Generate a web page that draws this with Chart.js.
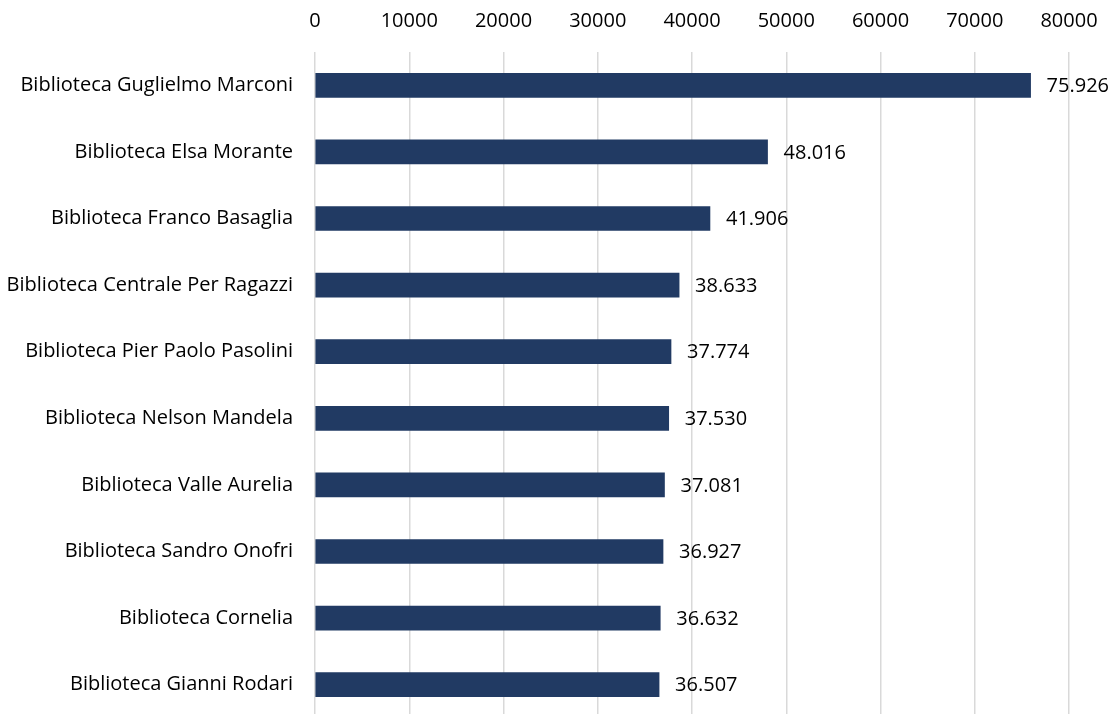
<!DOCTYPE html>
<html lang="it">
<head>
<meta charset="UTF-8">
<title>Biblioteche</title>
<script src="https://cdn.jsdelivr.net/npm/chart.js"></script>
<style>
    html, body { margin: 0; padding: 0; background: #fff; overflow: hidden; }
    canvas { display: block; }
</style>
</head>
<body>
<canvas id="grafico" width="1113" height="752"></canvas>
<script>
    const biblioteche = [
        "Biblioteca Guglielmo Marconi",
        "Biblioteca Elsa Morante",
        "Biblioteca Franco Basaglia",
        "Biblioteca Centrale Per Ragazzi",
        "Biblioteca Pier Paolo Pasolini",
        "Biblioteca Nelson Mandela",
        "Biblioteca Valle Aurelia",
        "Biblioteca Sandro Onofri",
        "Biblioteca Cornelia",
        "Biblioteca Gianni Rodari"
    ];
    const valori = [75926, 48016, 41906, 38633, 37774, 37530, 37081, 36927, 36632, 36507];
    const tickMax = 80000;
    const tickStep = 10000;

    const FONT = "'Open Sans', sans-serif";
    const SIZE = 20;

    // separatore delle migliaia all'italiana
    function formatta(n) {
        return String(n).replace(/\B(?=(\d{3})+(?!\d))/g, ".");
    }

    // etichette a destra delle barre
    const etichette = {
        id: 'etichette',
        afterDatasetsDraw(chart) {
            const ctx = chart.ctx;
            const meta = chart.getDatasetMeta(0);
            ctx.save();
            ctx.font = SIZE + "px " + FONT;
            ctx.fillStyle = "#000";
            ctx.textAlign = "left";
            ctx.textBaseline = "middle";
            meta.data.forEach(function (bar, i) {
                ctx.fillText(formatta(valori[i]), bar.x + 16, bar.y + 1);
            });
            ctx.restore();
        }
    };

    new Chart(document.getElementById("grafico"), {
        type: 'bar',
        data: {
            labels: biblioteche,
            datasets: [{
                data: valori,
                backgroundColor: '#213a63',
                borderWidth: 0,
                barThickness: 24
            }]
        },
        options: {
            indexAxis: 'y',
            responsive: false,
            animation: false,
            layout: { padding: { left: 0, right: 44, top: 0, bottom: 2 } },
            plugins: {
                legend: { display: false },
                tooltip: { enabled: false }
            },
            scales: {
                x: {
                    position: 'top',
                    min: 0,
                    max: tickMax,
                    ticks: {
                        stepSize: tickStep,
                        color: '#000',
                        font: { family: FONT, size: SIZE },
                        padding: 19,
                        maxRotation: 0,
                        callback: function (v) { return String(v); }
                    },
                    grid: { color: '#d9d9d9', lineWidth: 1.5, drawTicks: false },
                    border: { display: false },
                    afterFit: function (s) {
                        s.height = 52;
                        s.paddingLeft = 0;
                        s.paddingRight = 0;
                    }
                },
                y: {
                    ticks: {
                        color: '#000',
                        font: { family: FONT, size: SIZE },
                        padding: 22
                    },
                    grid: { display: false, drawTicks: false },
                    border: { display: false },
                    afterFit: function (s) { s.width = 315; }
                }
            }
        },
        plugins: [etichette]
    });
</script>
</body>
</html>
